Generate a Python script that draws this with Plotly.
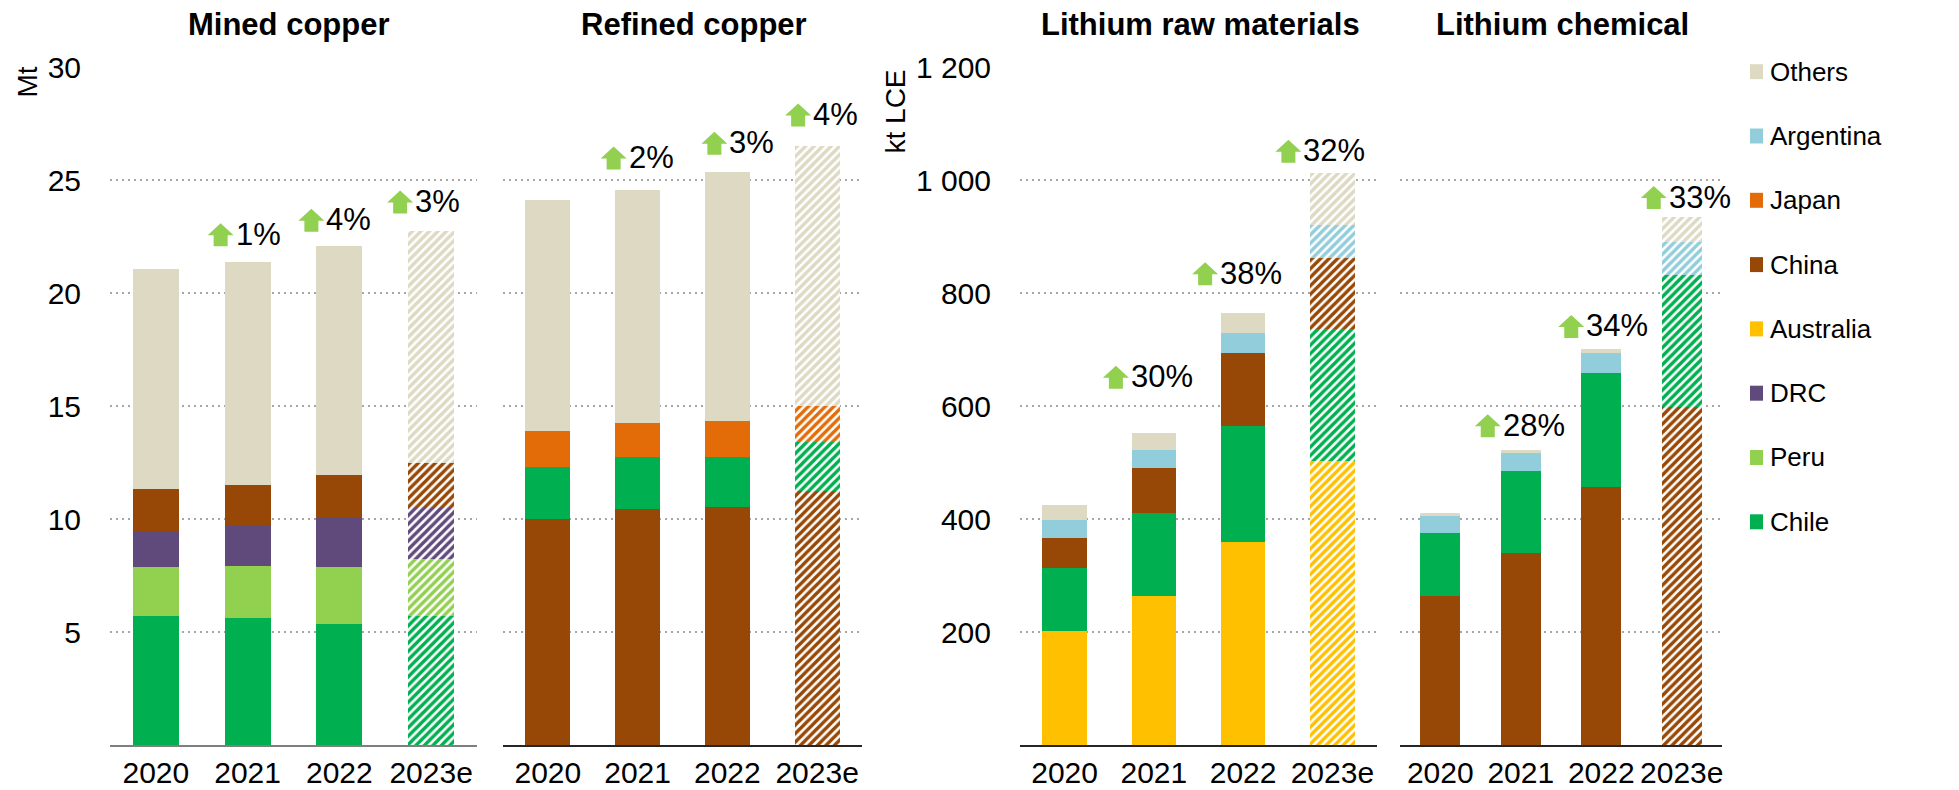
import plotly.graph_objects as go

W, H = 1959, 790
OFF = 8                      # page body margin in the browser
FW, FH = W - OFF, H - OFF    # figure size so that it ends at the window edge

years = ["2020", "2021", "2022", "2023e"]

# ---- data (stack order bottom -> top) ----
mined_series = ["Chile", "Peru", "DRC", "China", "Others"]
mined_chile = [5.72, 5.63, 5.37, 5.72]
mined_peru = [2.15, 2.30, 2.50, 2.51]
mined_drc = [1.60, 1.80, 2.19, 2.30]
mined_china = [1.87, 1.77, 1.89, 1.96]
mined_others = [9.71, 9.86, 10.15, 10.27]

ref_series = ["China", "Chile", "Japan", "Others"]
ref_china = [9.99, 10.44, 10.53, 11.25]
ref_chile = [2.32, 2.29, 2.23, 2.17]
ref_japan = [1.58, 1.52, 1.56, 1.59]
ref_others = [10.21, 10.31, 11.05, 11.49]

liraw_series = ["Australia", "Chile", "China", "Argentina", "Others"]
liraw_australia = [201, 263, 360, 503]
liraw_chile = [112, 147, 204, 234]
liraw_china = [54, 81, 130, 125]
liraw_argentina = [31, 32, 36, 59]
liraw_others = [26, 30, 34, 91]

lichem_series = ["China", "Chile", "Argentina", "Others"]
lichem_china = [264, 339, 457, 599]
lichem_chile = [111, 146, 201, 233]
lichem_argentina = [31, 32, 36, 58]
lichem_others = [5, 6, 7, 45]

mined_growth = ["1%", "4%", "3%"]
ref_growth = ["2%", "3%", "4%"]
liraw_growth = ["30%", "38%", "32%"]
lichem_growth = ["28%", "34%", "33%"]

# label anchor heights (data units) and horizontal pixel offsets of arrows
mined_label_y = [22.55, 23.2, 24.0]
ref_label_y = [25.95, 26.6, 27.85]
liraw_label_y = [650, 833, 1050]
lichem_label_y = [564, 740, 968]
mined_arrow_dx = [-27, -28, -31]
ref_arrow_dx = [-24, -13, -19]
liraw_arrow_dx = [-38, -38, -44]
lichem_arrow_dx = [-33, -30, -28]

copper_ticks = [5, 10, 15, 20, 25, 30]
copper_ticktext = ["5", "10", "15", "20", "25", "30"]
lithium_ticks = [200, 400, 600, 800, 1000, 1200]
lithium_ticktext = ["200", "400", "600", "800", "1 000", "1 200"]

legend_order = ["Others", "Argentina", "Japan", "China", "Australia", "DRC", "Peru", "Chile"]

colors = {
    "Others": "#DDD9C3",
    "Argentina": "#92CDDC",
    "Japan": "#E36C09",
    "China": "#974806",
    "Australia": "#FFC000",
    "DRC": "#604A7B",
    "Peru": "#92D050",
    "Chile": "#00B050",
}
ARROW = "#92D050"
FONT = "Liberation Sans, Arial, sans-serif"


def px_x(px):
    return (px - OFF) / FW


def px_y(py):
    return (FH - (py - OFF)) / FH


panels = [
    dict(title="Mined copper", series=mined_series,
         vals=[mined_chile, mined_peru, mined_drc, mined_china, mined_others],
         growth=mined_growth, ly=mined_label_y, dx=mined_arrow_dx,
         px=(110, 477), title_x=288.5, axis_color="#7F7F7F"),
    dict(title="Refined copper", series=ref_series,
         vals=[ref_china, ref_chile, ref_japan, ref_others],
         growth=ref_growth, ly=ref_label_y, dx=ref_arrow_dx,
         px=(503, 862), title_x=693.5, axis_color="#262626"),
    dict(title="Lithium raw materials", series=liraw_series,
         vals=[liraw_australia, liraw_chile, liraw_china, liraw_argentina, liraw_others],
         growth=liraw_growth, ly=liraw_label_y, dx=liraw_arrow_dx,
         px=(1020, 1377), title_x=1200.5, axis_color="#262626"),
    dict(title="Lithium chemical", series=lichem_series,
         vals=[lichem_china, lichem_chile, lichem_argentina, lichem_others],
         growth=lichem_growth, ly=lichem_label_y, dx=lichem_arrow_dx,
         px=(1400, 1722), title_x=1562, axis_color="#262626"),
]

PLOT_TOP, PLOT_BOT = 67, 745
ydom = [px_y(PLOT_BOT), px_y(PLOT_TOP)]

fig = go.Figure()
shapes = []
annotations = []

for i, p in enumerate(panels):
    n = i + 1
    xa = "x" if n == 1 else f"x{n}"
    ya = "y" if n == 1 else f"y{n}"
    for name, v in zip(p["series"], p["vals"]):
        c = colors[name]
        fig.add_trace(go.Bar(
            x=years, y=v, name=name, xaxis=xa, yaxis=ya, width=0.5,
            showlegend=False,
            marker=dict(
                color=c, line=dict(width=0),
                pattern=dict(shape=["", "", "", "/"], fgcolor=c, bgcolor="white",
                             fillmode="replace", size=6, solidity=0.58),
            ),
            hovertemplate=name + ": %{y}<extra></extra>",
        ))
    is_copper = i < 2
    fig.layout[f"xaxis{'' if n == 1 else n}"] = dict(
        domain=[px_x(p["px"][0]), px_x(p["px"][1])], anchor=ya,
        type="category", categoryorder="array", categoryarray=years,
        range=[-0.5, len(years) - 0.5], autorange=False,
        showgrid=False, showline=True, linecolor=p["axis_color"], linewidth=1.5,
        ticks="", tickfont=dict(size=30, color="black", family=FONT),
        ticklabelstandoff=0, fixedrange=True,
    )
    fig.layout[f"yaxis{'' if n == 1 else n}"] = dict(
        domain=ydom, anchor=xa,
        range=[0, 30] if is_copper else [0, 1200], autorange=False,
        tickvals=copper_ticks if is_copper else lithium_ticks,
        ticktext=copper_ticktext if is_copper else lithium_ticktext,
        showticklabels=(n in (1, 3)),
        tickfont=dict(size=30, color="black", family=FONT),
        ticklabelstandoff=28,
        showgrid=True, gridcolor="#A6A6A6", gridwidth=2, griddash="2px,4px",
        zeroline=False, showline=False, ticks="", fixedrange=True,
    )
    # panel title
    annotations.append(dict(
        x=px_x(p["title_x"]), y=px_y(25), xref="paper", yref="paper",
        text=f"<b>{p['title']}</b>", showarrow=False, xanchor="center", yanchor="middle",
        font=dict(size=31, color="black", family=FONT),
    ))
    # growth labels (category index j+1 = 2021, 2022, 2023e)
    for j, (g, ly, dx) in enumerate(zip(p["growth"], p["ly"], p["dx"])):
        idx = j + 1
        path = (f"M {dx-7},-11 L {dx+7},-11 L {dx+7},0 L {dx+13},0 "
                f"L {dx},12 L {dx-13},0 L {dx-7},0 Z")
        shapes.append(dict(
            type="path", xref=xa, yref=ya, xsizemode="pixel", ysizemode="pixel",
            xanchor=idx, yanchor=ly, path=path,
            fillcolor=ARROW, line=dict(width=0), layer="above",
        ))
        annotations.append(dict(
            x=idx, y=ly, xref=xa, yref=ya, text=g, showarrow=False,
            xanchor="left", yanchor="middle", xshift=dx + 13, yshift=1,
            font=dict(size=31, color="black", family=FONT),
        ))

# y axis titles
annotations.append(dict(
    x=px_x(27.5), y=px_y(82), xref="paper", yref="paper", text="Mt",
    textangle=-90, showarrow=False, xanchor="center", yanchor="middle",
    font=dict(size=28, color="black", family=FONT),
))
annotations.append(dict(
    x=px_x(895), y=px_y(111.5), xref="paper", yref="paper", text="kt LCE",
    textangle=-90, showarrow=False, xanchor="center", yanchor="middle",
    font=dict(size=28, color="black", family=FONT),
))

# legend (manual)
for k, name in enumerate(legend_order):
    cy = 71.7 + k * 64.3
    shapes.append(dict(
        type="rect", xref="paper", yref="paper",
        x0=px_x(1750), x1=px_x(1763), y0=px_y(cy + 7.5), y1=px_y(cy - 7.5),
        fillcolor=colors[name], line=dict(width=0),
    ))
    annotations.append(dict(
        x=px_x(1768), y=px_y(cy), xref="paper", yref="paper", text=name,
        showarrow=False, xanchor="left", yanchor="middle",
        font=dict(size=26, color="black", family=FONT),
    ))

fig.update_layout(
    width=FW, height=FH, barmode="stack",
    margin=dict(l=0, r=0, t=0, b=0, autoexpand=False),
    paper_bgcolor="white", plot_bgcolor="white",
    shapes=shapes, annotations=annotations,
    font=dict(family=FONT, color="black"),
    showlegend=False,
)

fig.write_html("out.html")
